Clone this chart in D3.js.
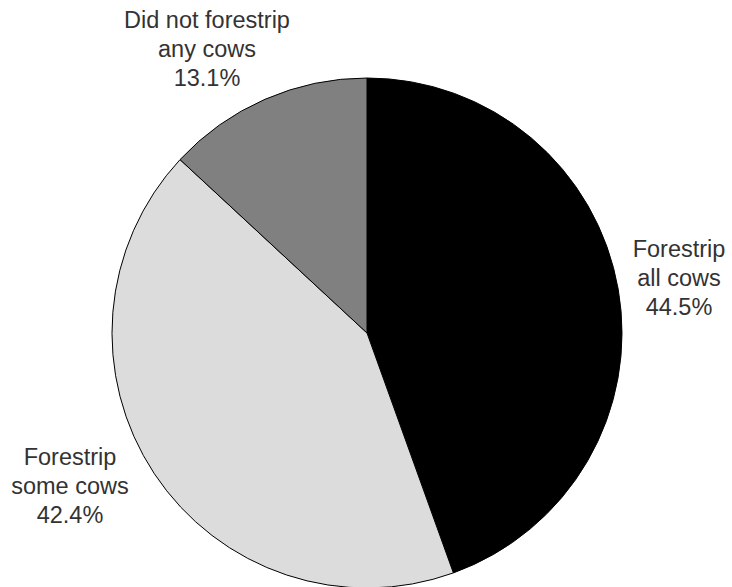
<!DOCTYPE html>
<html><head><meta charset="utf-8">
<script src="https://cdn.jsdelivr.net/npm/d3@7"></script>
<style>html,body{margin:0;padding:0;background:#fff;}</style>
</head><body>
<svg id="chart" width="732" height="587"></svg>
<script>
const categories = ["Forestrip all cows", "Forestrip some cows", "Did not forestrip any cows"];
const values = [44.5, 42.4, 13.1];
const colors = ["#000000", "#dcdcdc", "#808080"];
const labelLines = [["Forestrip", "all cows", "44.5%"], ["Forestrip", "some cows", "42.4%"], ["Did not forestrip", "any cows", "13.1%"]];

const svg = d3.select("#chart");
const cx = 367, cy = 333, r = 255;
const pie = d3.pie().sort(null).value(d => d)(values);
const arc = d3.arc().innerRadius(0).outerRadius(r);
const g = svg.append("g").attr("transform", `translate(${cx},${cy})`);
g.selectAll("path").data(pie).enter().append("path")
  .attr("d", arc)
  .attr("fill", (d, i) => colors[i])
  .attr("stroke", "#000").attr("stroke-width", 1);

const labelPos = [[679, 257], [70, 465], [207, 28]];
labelLines.forEach((lines, i) => {
  const t = svg.append("text").attr("text-anchor", "middle")
    .attr("font-family", "Liberation Sans, Arial, sans-serif")
    .attr("font-size", 23.5).attr("fill", "#333");
  lines.forEach((l, j) => {
    t.append("tspan").attr("x", labelPos[i][0]).attr("y", labelPos[i][1] + j * 29).text(l);
  });
});
</script>
</body></html>
